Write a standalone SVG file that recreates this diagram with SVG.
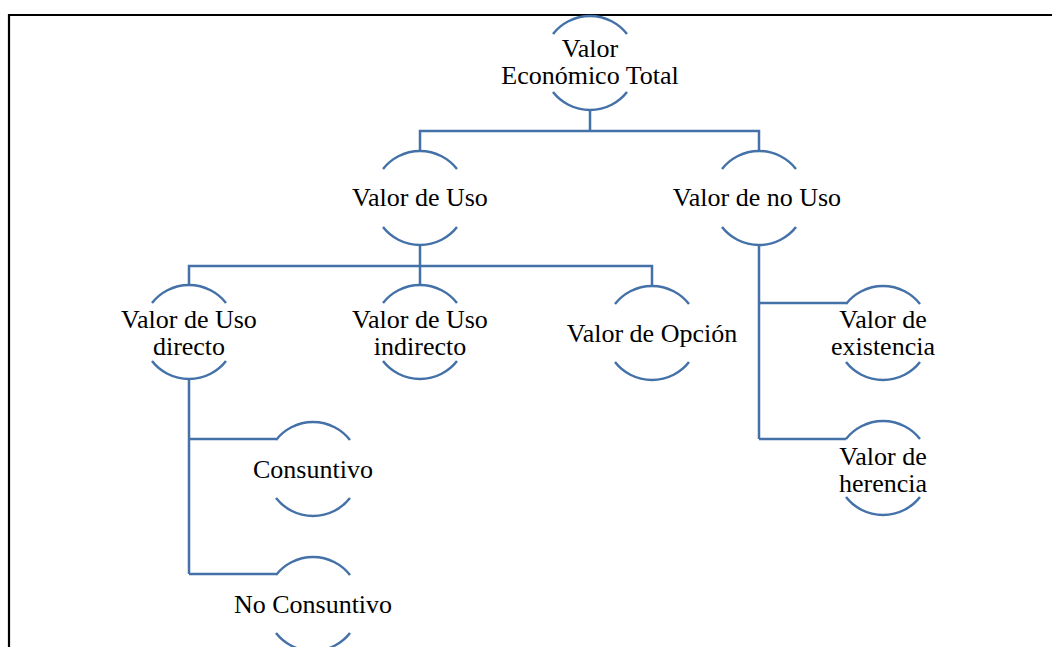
<svg xmlns="http://www.w3.org/2000/svg" width="1052" height="647" viewBox="0 0 1052 647">
<style>
.arc{fill:none;stroke:#4371A8;stroke-width:2.5}
.con{fill:none;stroke:#4371A8;stroke-width:2.5}
.frame{fill:none;stroke:#000;stroke-width:2.2}
text{font-family:"Liberation Serif","Times New Roman",serif;font-size:26px;fill:#000;text-anchor:middle}
</style>
<defs>
<path id="ring" class="arc" d="M-37,-29 A47,47 0 0 1 37,-29 M-37,29 A47,47 0 0 0 37,29"/>
</defs>
<rect width="1052" height="647" fill="#fff"/>
<path class="frame" d="M9,647 V15 H1052"/>
<g id="connectors">
<path class="con" d="M590,110 V131 M420,151 V131 H759 V151"/>
<path class="con" d="M420,245 V286 M189,286 V266 H652 V286"/>
<path class="con" d="M759,245 V439 M759,303 H846 M759,439 H846"/>
<path class="con" d="M189,379 V574 M189,439 H276 M189,574 H276"/>
</g>
<g id="n-total"><use href="#ring" x="590" y="63"/><text x="590" y="56.5">Valor<tspan x="590" dy="27">Económico Total</tspan></text></g>
<g id="n-uso"><use href="#ring" x="420" y="198"/><text x="420" y="206">Valor de Uso</text></g>
<g id="n-nouso"><use href="#ring" x="759" y="198"/><text x="757" y="206">Valor de no Uso</text></g>
<g id="n-directo"><use href="#ring" x="189" y="332"/><text x="189" y="327.5">Valor de Uso<tspan x="189" dy="27">directo</tspan></text></g>
<g id="n-indirecto"><use href="#ring" x="420" y="332"/><text x="420" y="327.5">Valor de Uso<tspan x="420" dy="27">indirecto</tspan></text></g>
<g id="n-opcion"><use href="#ring" x="652" y="333"/><text x="652" y="341.5">Valor de Opción</text></g>
<g id="n-existencia"><use href="#ring" x="883" y="333"/><text x="883" y="328">Valor de<tspan x="883" dy="27">existencia</tspan></text></g>
<g id="n-herencia"><use href="#ring" x="883" y="468"/><text x="883" y="465">Valor de<tspan x="883" dy="27">herencia</tspan></text></g>
<g id="n-consuntivo"><use href="#ring" x="313" y="469"/><text x="313" y="478">Consuntivo</text></g>
<g id="n-noconsuntivo"><use href="#ring" x="313" y="604"/><text x="313" y="613">No Consuntivo</text></g>
</svg>
